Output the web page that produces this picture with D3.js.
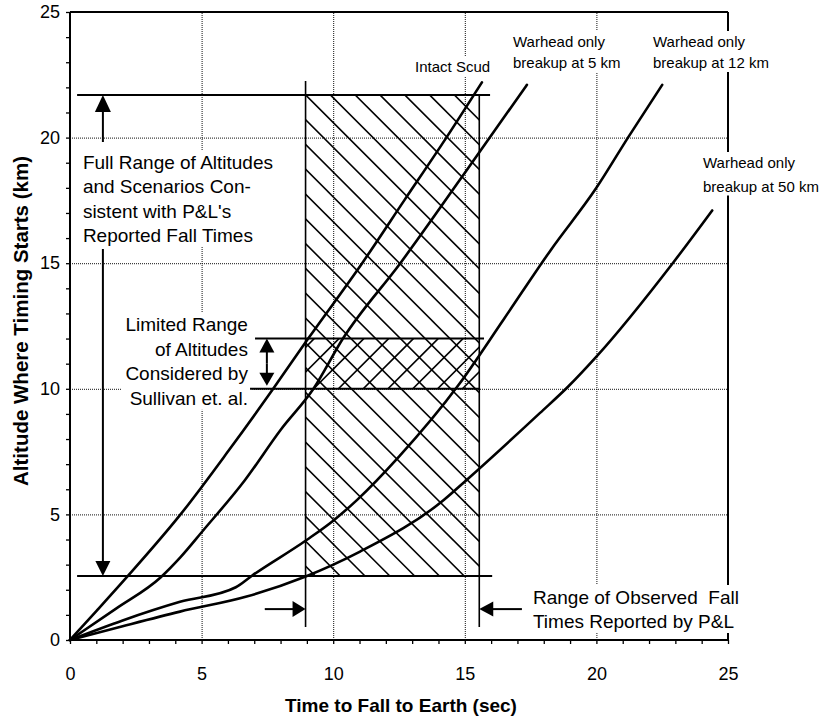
<!DOCTYPE html>
<html>
<head>
<meta charset="utf-8">
<script src="https://cdnjs.cloudflare.com/ajax/libs/d3/7.8.5/d3.min.js"></script>
<style>
html, body { margin: 0; padding: 0; background: #fff; }
svg { font-family: 'Liberation Sans', Arial, Helvetica, sans-serif; }
.grid line { stroke: #111; stroke-width: 1; stroke-dasharray: 1, 1; }
.grid path { display: none; }
.axis path { display: none; }
.axis line { stroke: #000; stroke-width: 1.3; }
.axis text { font-size: 18px; fill: #000; font-family: 'Liberation Sans', Arial, sans-serif; }
.frame { stroke: #000; stroke-width: 2; }
.curve { fill: none; stroke: #000; stroke-width: 2.6; stroke-linejoin: round; stroke-linecap: round; }
.hatch { stroke: #000; stroke-width: 1.6; }
.range { stroke: #000; stroke-width: 2; }
.edge { stroke: #000; stroke-width: 1.6; }
.arrow { stroke: #000; stroke-width: 2; }
.note { font-size: 19px; fill: #000; }
.lbl { font-size: 15px; fill: #000; }
.title { font-size: 19px; font-weight: bold; fill: #000; }
</style>
</head>
<body>
<script>
// axis ticks
var xTicks = [0, 5, 10, 15, 20, 25];
var yTicks = [0, 5, 10, 15, 20, 25];

// fall time (sec) vs altitude where timing starts (km)
var intactScud = [[0, 0], [1, 1.15], [2.2, 2.55], [4.2, 5], [6, 7.5], [7.72, 10], [9.05, 12],
    [11.1, 15], [12.7, 17.5], [14.3, 20], [15.65, 22.2]];
var breakup5 = [[0, 0], [1.75, 1.25], [3.45, 2.5], [4.2, 3.3], [5.05, 4.35], [6.65, 6.37], [8, 8.36],
    [9.25, 10], [10.37, 12], [12.55, 15], [15.54, 19.4], [17.36, 22.1]];
var breakup12 = [[0, 0], [2, 0.78], [4.18, 1.52], [6.3, 2.1], [6.9, 2.55], [8.99, 3.98], [10, 4.75],
    [10.9, 5.57], [12.5, 7.3], [14.76, 10.15], [16.5, 12.8], [18.25, 15.5], [20, 18], [21.2, 20], [22.5, 22.1]];
var breakup50 = [[0, 0], [2, 0.55], [4.18, 1.13], [6.71, 1.73], [8.93, 2.52], [11.02, 3.52], [14.2, 5.57],
    [15.07, 6.37], [17.86, 9.04], [18.92, 10.08], [20, 11.28], [22.9, 15], [24.4, 17.1]];

// shaded ranges
var observedTimes = [8.95, 15.55];     // sec
var fullAltitudes = [2.55, 21.7];      // km
var limitedAltitudes = [10, 12];       // km

var width = 822, height = 719;

var svg = d3.select("body").append("svg")
    .attr("width", width)
    .attr("height", height);

var x = d3.scaleLinear().domain([0, 25]).range([70, 728]);
var y = d3.scaleLinear().domain([0, 25]).range([640, 12]);

// dotted grid
svg.append("g")
    .attr("class", "grid")
    .attr("transform", "translate(0," + y(0) + ")")
    .call(d3.axisBottom(x).tickValues([5, 10, 15, 20]).tickSize(-(y(0) - y(25))).tickFormat(""));
svg.append("g")
    .attr("class", "grid")
    .attr("transform", "translate(" + x(0) + ",0)")
    .call(d3.axisLeft(y).tickValues([5, 10, 15, 20]).tickSize(-(x(25) - x(0))).tickFormat(""));

// frame
svg.append("line").attr("class", "frame").attr("x1", x(0)).attr("x2", x(25)).attr("y1", y(25)).attr("y2", y(25));
svg.append("line").attr("class", "frame").attr("x1", x(25)).attr("x2", x(25)).attr("y1", y(25)).attr("y2", y(0));

// white boxes behind the texts go here (filled at the end)
var maskLayer = svg.append("g");

svg.append("line").attr("class", "frame").attr("x1", x(0)).attr("x2", x(25)).attr("y1", y(0)).attr("y2", y(0));
svg.append("line").attr("class", "frame").attr("x1", x(0)).attr("x2", x(0)).attr("y1", y(25)).attr("y2", y(0));

// axes with a small tick every unit
svg.append("g")
    .attr("class", "axis")
    .attr("transform", "translate(0," + y(0) + ")")
    .call(d3.axisBottom(x).tickValues(d3.range(0, 26)).tickSize(4).tickPadding(23)
        .tickFormat(function(d) { return xTicks.indexOf(d) >= 0 ? d : ""; }));
svg.append("g")
    .attr("class", "axis")
    .attr("transform", "translate(" + x(0) + ",0)")
    .call(d3.axisLeft(y).tickValues(d3.range(0, 26)).tickSize(4).tickPadding(6)
        .tickFormat(function(d) { return yTicks.indexOf(d) >= 0 ? d : ""; }));

// hatched box: observed times x full altitude range
var bx0 = x(observedTimes[0]), bx1 = x(observedTimes[1]);
var by0 = y(fullAltitudes[1]), by1 = y(fullAltitudes[0]);
var step = 24.8;

svg.append("clipPath").attr("id", "boxClip")
    .append("rect").attr("x", bx0).attr("y", by0).attr("width", bx1 - bx0).attr("height", by1 - by0);
var ly0 = y(limitedAltitudes[1]), ly1 = y(limitedAltitudes[0]);
svg.append("clipPath").attr("id", "bandClip")
    .append("rect").attr("x", bx0).attr("y", ly0).attr("width", bx1 - bx0).attr("height", ly1 - ly0);

var H = by1 - by0, W = bx1 - bx0;
var back = d3.range(-Math.ceil(H / step) - 1, Math.ceil(W / step) + 1);
svg.append("g").attr("clip-path", "url(#boxClip)")
    .selectAll("line").data(back).enter().append("line")
    .attr("class", "hatch")
    .attr("x1", function(k) { return bx0 + k * step; })
    .attr("y1", by0)
    .attr("x2", function(k) { return bx0 + k * step + H; })
    .attr("y2", by1);

// cross hatch in the limited range band
var bh = ly1 - ly0;
var fwd = d3.range(-2, Math.ceil(W / step) + 2);
svg.append("g").attr("clip-path", "url(#bandClip)")
    .selectAll("line").data(fwd).enter().append("line")
    .attr("class", "hatch")
    .attr("x1", function(k) { return bx0 + 8 + k * step; })
    .attr("y1", ly1)
    .attr("x2", function(k) { return bx0 + 8 + k * step + bh; })
    .attr("y2", ly0);

// box edges and range lines
function hline(v, a, b, cls) {
    svg.append("line").attr("class", cls)
        .attr("x1", x(a)).attr("x2", x(b)).attr("y1", y(v)).attr("y2", y(v));
}
function vline(v, a, b, cls) {
    svg.append("line").attr("class", cls)
        .attr("x1", x(v)).attr("x2", x(v)).attr("y1", y(a)).attr("y2", y(b));
}
vline(observedTimes[0], 0.52, 22.25, "edge");
vline(observedTimes[1], 0.52, fullAltitudes[1], "edge");
hline(fullAltitudes[1], 0.27, 15.96, "range");
hline(fullAltitudes[0], 0.27, 16.04, "range");
hline(limitedAltitudes[1], 7.03, 15.73, "range");
hline(limitedAltitudes[0], 6.84, 15.58, "range");

// curves
var line = d3.line()
    .x(function(d) { return x(d[0]); })
    .y(function(d) { return y(d[1]); })
    .curve(d3.curveMonotoneX);

[intactScud, breakup5, breakup12, breakup50].forEach(function(s) {
    svg.append("path").attr("class", "curve").attr("d", line(s));
});

// arrows
function arrow(x1, y1, x2, y2, len, half) {
    var dx = x2 - x1, dy = y2 - y1;
    var n = Math.sqrt(dx * dx + dy * dy);
    var ux = dx / n, uy = dy / n;
    var bx = x2 - ux * len, by = y2 - uy * len;
    svg.append("line").attr("class", "arrow")
        .attr("x1", x1).attr("y1", y1).attr("x2", bx + ux).attr("y2", by + uy);
    svg.append("path")
        .attr("d", "M" + x2 + "," + y2 +
            "L" + (bx - uy * half) + "," + (by + ux * half) +
            "L" + (bx + uy * half) + "," + (by - ux * half) + "Z")
        .attr("fill", "#000");
}

// texts
var textLayer = svg.append("g");

function block(lines, px, py, lh, cls, anchor) {
    var t = textLayer.append("text").attr("class", cls).attr("text-anchor", anchor || "start");
    lines.forEach(function(s, i) {
        t.append("tspan").attr("x", px).attr("y", py + i * lh).text(s);
    });
    return t;
}

block(["Intact Scud"], x(13.11), y(22.61), 21, "lbl");
block(["Warhead only", "breakup at 5 km"], x(16.83), 47, 21, "lbl");
block(["Warhead only", "breakup at 12 km"], x(22.15), 47, 21, "lbl");
block(["Warhead only", "breakup at 50 km"], x(24.05), 168, 23.5, "lbl");

var full = block(["Full Range of Altitudes", "and Scenarios Con-", "sistent with P\u0026L's", "Reported Fall Times"],
    x(0.49), 169, 24.3, "note");
var limited = block(["Limited Range", "of Altitudes", "Considered by", "Sullivan et. al."],
    x(6.76), 331, 24.6, "note", "end");
block(["Range of Observed  Fall", "Times Reported by P\u0026L"], x(17.59), 604, 24, "note")
    .style("white-space", "pre");

// axis titles
textLayer.append("text").attr("class", "title")
    .attr("text-anchor", "middle")
    .attr("x", (x(0) + x(25)) / 2 + 2)
    .attr("y", 712)
    .text("Time to Fall to Earth (sec)");
textLayer.append("text").attr("class", "title")
    .attr("text-anchor", "middle")
    .style("font-size", "20.5px")
    .attr("transform", "translate(28," + ((y(0) + y(25)) / 2 - 5) + ") rotate(-90)")
    .text("Altitude Where Timing Starts (km)");

// white boxes under the annotation texts
textLayer.selectAll("text.note, text.lbl").each(function() {
    var b = this.getBBox();
    maskLayer.append("rect")
        .attr("x", b.x - 4).attr("y", b.y - 2)
        .attr("width", b.width + 8).attr("height", b.height + 3)
        .attr("fill", "#fff");
});

// full range arrows
var fb = full.node().getBBox();
var ax = x(1.25);
arrow(ax, fb.y - 10, ax, y(fullAltitudes[1]), 17, 8);
arrow(ax, fb.y + fb.height + 3, ax, y(fullAltitudes[0]), 15, 7.5);

// limited range double arrow
var dx = x(7.48), mid = (y(limitedAltitudes[0]) + y(limitedAltitudes[1])) / 2;
arrow(dx, mid, dx, y(limitedAltitudes[1]), 14, 7.5);
arrow(dx, mid, dx, y(limitedAltitudes[0]) - 3, 13, 7.5);

// observed fall time arrows
arrow(x(7.4), y(1.23), x(observedTimes[0]), y(1.23), 13, 8);
arrow(x(17.17), y(1.23), x(observedTimes[1]), y(1.23), 14, 7.5);
</script>
</body>
</html>
